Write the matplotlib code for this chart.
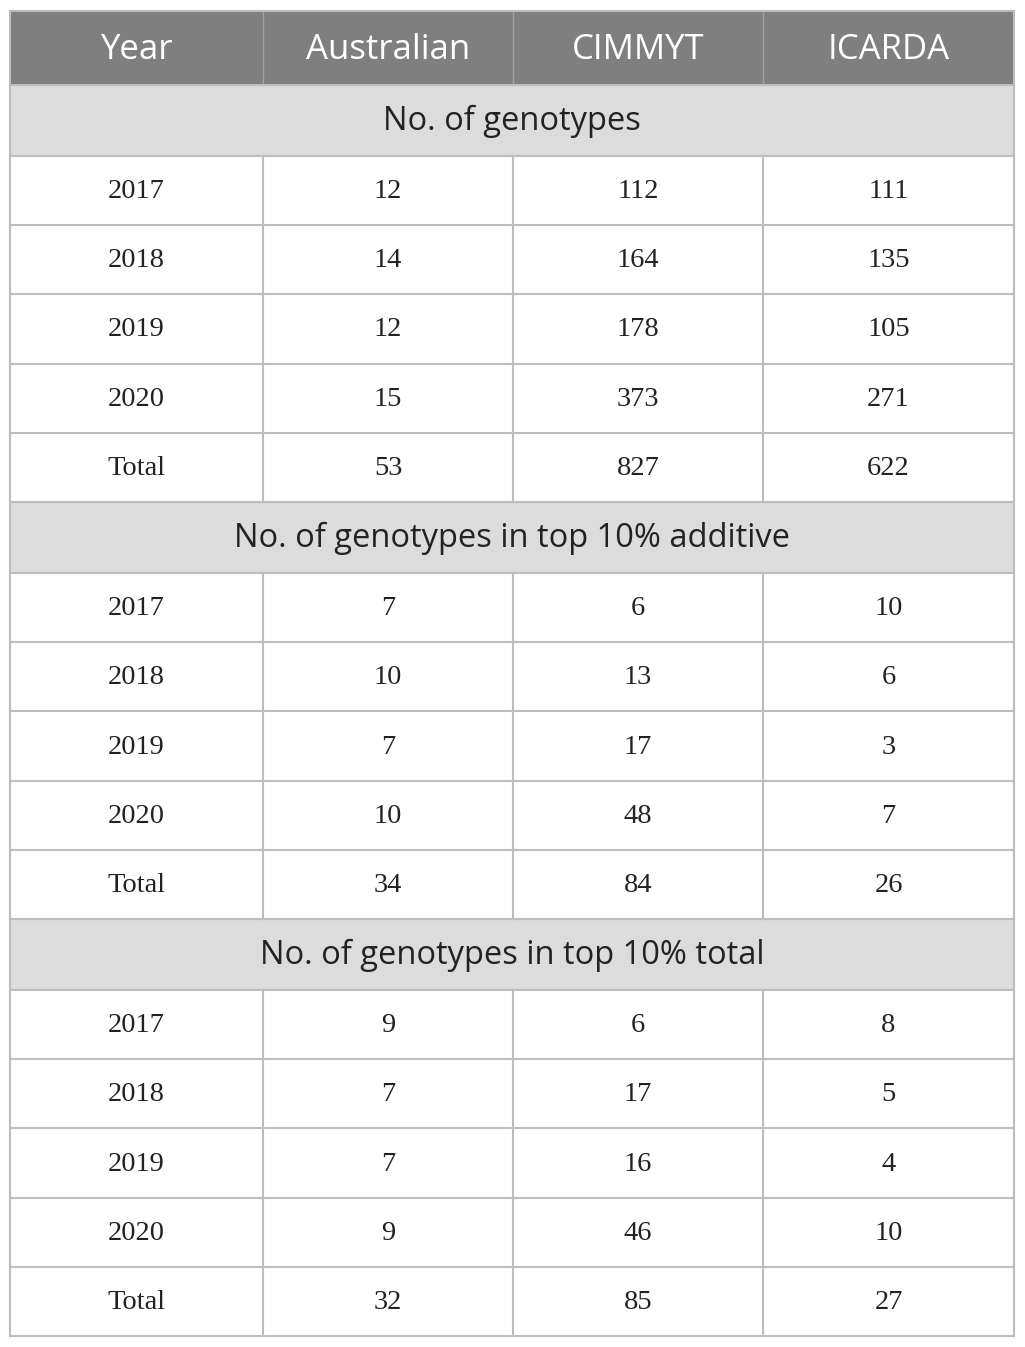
import matplotlib
matplotlib.use('Agg')
import matplotlib.pyplot as plt
from matplotlib.patches import Rectangle

columns = ['Year', 'Australian', 'CIMMYT', 'ICARDA']
years = ['2017', '2018', '2019', '2020', 'Total']
sections = ['No. of genotypes',
            'No. of genotypes in top 10% additive',
            'No. of genotypes in top 10% total']
australian = [[12, 14, 12, 15, 53], [7, 10, 7, 10, 34], [9, 7, 7, 9, 32]]
cimmyt = [[112, 164, 178, 373, 827], [6, 13, 17, 48, 84], [6, 17, 16, 46, 85]]
icarda = [[111, 135, 105, 271, 622], [10, 6, 3, 7, 26], [8, 5, 4, 10, 27]]

W, H = 1025, 1347
fig = plt.figure(figsize=(W / 100, H / 100), dpi=100)
ax = fig.add_axes([0, 0, 1, 1])
ax.set_xlim(0, W)
ax.set_ylim(H, 0)
ax.axis('off')

col_x = [10, 263, 513, 763, 1014]
head_h = 74
sec_h = 71
row_h = 69.2
grid = '#bdbdbd'
head_bg = '#7f7f7f'
sec_bg = '#dcdcdc'
sans = ['Open Sans', 'DejaVu Sans']
serif = ['Liberation Serif', 'DejaVu Serif']

y = 11
ax.add_patch(Rectangle((col_x[0], y), col_x[-1] - col_x[0], head_h, facecolor=head_bg, edgecolor='none'))
for i, c in enumerate(columns):
    xc = (col_x[i] + col_x[i + 1]) / 2
    ax.text(xc, y + head_h / 2 + 2, c, ha='center', va='center', color='white', fontsize=25, family=sans)
for xv in col_x[1:-1]:
    ax.plot([xv, xv], [y, y + head_h], color='#a0a0a0', lw=1)
y += head_h

for s in range(3):
    ax.add_patch(Rectangle((col_x[0], y), col_x[-1] - col_x[0], sec_h, facecolor=sec_bg, edgecolor='none'))
    ax.text((col_x[0] + col_x[-1]) / 2, y + sec_h / 2 + 1, sections[s], ha='center', va='center',
            color='#222222', fontsize=23.5, family=sans)
    ax.plot([col_x[0], col_x[-1]], [y, y], color=grid, lw=1.5)
    y += sec_h
    ax.plot([col_x[0], col_x[-1]], [y, y], color=grid, lw=1.5)
    for r in range(len(years)):
        vals = [years[r], australian[s][r], cimmyt[s][r], icarda[s][r]]
        for i, v in enumerate(vals):
            xc = (col_x[i] + col_x[i + 1]) / 2
            ax.text(xc, y + row_h / 2 + 1, str(v), ha='center', va='center', color='#222222',
                    fontsize=20.5, family=serif)
        for xv in col_x[1:-1]:
            ax.plot([xv, xv], [y, y + row_h], color=grid, lw=1.5)
        y += row_h
        ax.plot([col_x[0], col_x[-1]], [y, y], color=grid, lw=1.5)

# outer border
ax.plot([col_x[0], col_x[0]], [11, y], color=grid, lw=1.5)
ax.plot([col_x[-1], col_x[-1]], [11, y], color=grid, lw=1.5)
ax.plot([col_x[0], col_x[-1]], [11, 11], color=grid, lw=1.5)

fig.savefig('out.png', dpi=100, facecolor='white')
